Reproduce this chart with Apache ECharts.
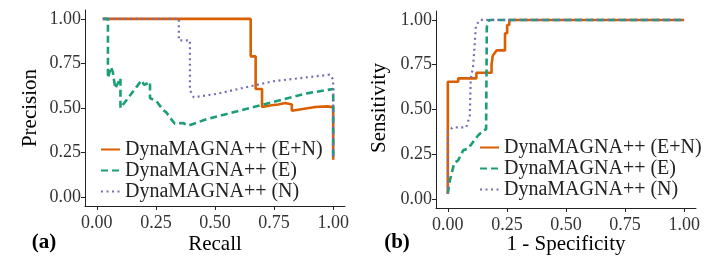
<!DOCTYPE html>
<html>
<head>
<meta charset="utf-8">
<script src="https://cdn.jsdelivr.net/npm/echarts@6/dist/echarts.min.js"></script>
<style>html,body{margin:0;padding:0;background:#fff}#c{width:706px;height:272px}</style>
</head>
<body>
<div id="c"></div>
<script>
const seriesNames = ['DynaMAGNA++ (E+N)', 'DynaMAGNA++ (E)', 'DynaMAGNA++ (N)'];
const tickValues = [0, 0.25, 0.5, 0.75, 1];

// (a) Precision-Recall: [recall, precision]
const prEN = [[0.025,1],[0.651,1],[0.651,0.79],[0.672,0.79],[0.672,0.607],[0.699,0.607],[0.699,0.506],[0.74,0.515],[0.767,0.52],[0.797,0.528],[0.825,0.52],[0.825,0.485],[0.924,0.506],[0.924,0.496],[0.973,0.509],[0.973,0.50],[1.0,0.505],[1.0,0.21]];
const prE = [[0.025,1],[0.047,1],[0.047,0.668],[0.06,0.73],[0.068,0.70],[0.078,0.61],[0.10,0.668],[0.10,0.50],[0.189,0.655],[0.20,0.63],[0.225,0.645],[0.225,0.556],[0.253,0.537],[0.28,0.49],[0.295,0.474],[0.316,0.435],[0.33,0.412],[0.364,0.416],[0.387,0.401],[0.46,0.435],[0.676,0.51],[0.888,0.582],[1.0,0.607],[1.0,0.21]];
const prN = [[0.025,1],[0.347,1],[0.347,0.88],[0.394,0.88],[0.394,0.60],[0.41,0.56],[0.51,0.58],[0.66,0.625],[0.746,0.65],[0.985,0.687],[1.0,0.66],[1.0,0.21]];

// (b) ROC: [1 - specificity, sensitivity]
const rocEN = [[0,0.03],[0,0.655],[0.044,0.655],[0.044,0.674],[0.121,0.674],[0.121,0.705],[0.185,0.705],[0.185,0.75],[0.19,0.80],[0.206,0.83],[0.242,0.83],[0.242,0.926],[0.251,0.926],[0.251,0.972],[0.26,0.972],[0.26,1.0],[1,1]];
const rocE = [[0,0.03],[0.008,0.10],[0.027,0.20],[0.044,0.217],[0.065,0.272],[0.086,0.282],[0.107,0.319],[0.128,0.355],[0.15,0.383],[0.162,0.39],[0.165,0.96],[0.175,1.0],[1,1]];
const rocN = [[0,0.03],[0,0.375],[0.02,0.40],[0.078,0.40],[0.093,0.466],[0.097,0.67],[0.107,0.74],[0.114,0.87],[0.119,0.97],[0.136,1.0],[1,1]];

const colors = ['#D95F02', '#1B9E77', '#7570B3'];
const FONT = '"Liberation Serif", "Times New Roman", serif';
const axisCol = '#222';

function xAx(gi) {
  return {
    type: 'value', gridIndex: gi, min: -0.05, max: 1.05,
    axisLine: { onZero: false, lineStyle: { color: axisCol, width: 1 } },
    axisTick: { customValues: tickValues, length: 4, lineStyle: { color: axisCol } },
    axisLabel: { customValues: tickValues, formatter: v => v.toFixed(2), fontFamily: FONT, fontSize: 18, color: '#333', margin: 8 },
    splitLine: { show: false }
  };
}
function yAx(gi) {
  return {
    type: 'value', gridIndex: gi, min: -0.05, max: 1.05,
    axisLine: { show: true, onZero: false, lineStyle: { color: axisCol, width: 1 } },
    axisTick: { show: true, customValues: tickValues, length: 4, lineStyle: { color: axisCol } },
    axisLabel: { customValues: tickValues, formatter: v => v.toFixed(2), fontFamily: FONT, fontSize: 18, color: '#333', margin: 4 },
    splitLine: { show: false }
  };
}
const styles = [
  { width: 2.6, type: 'solid' },
  { width: 2.6, type: [7, 4] },
  { width: 2.2, type: [2, 3.5] }
];
function mk(name, data, gi, k) {
  return {
    name, type: 'line', data, xAxisIndex: gi, yAxisIndex: gi, symbol: 'none',
    color: colors[k], lineStyle: Object.assign({ color: colors[k], cap: 'butt' }, styles[k]),
    animation: false, z: 2 + k
  };
}
const legendText = { fontFamily: FONT, fontSize: 20, color: '#222', lineHeight: 21 };
function legendAt(left, top) {
  return { data: seriesNames, left, top, padding: 0, orient: 'vertical', itemWidth: 19, itemHeight: 14, itemGap: 0,
    textStyle: legendText, selectedMode: false,
    itemStyle: { color: 'rgba(0,0,0,0)', borderWidth: 0, opacity: 0 } };
}
function txt(x, y, text, size, bold, rot) {
  return { type: 'text', x, y, rotation: rot || 0,
    style: { text, font: (bold ? 'bold ' : '') + size + 'px ' + FONT, fill: '#000', align: 'center', verticalAlign: 'middle' } };
}
const chart = echarts.init(document.getElementById('c'), null, { renderer: 'canvas' });
chart.setOption({
  animation: false,
  grid: [
    { left: 85, top: 10, width: 260, height: 196 },
    { left: 436, top: 11, width: 260, height: 197 }
  ],
  xAxis: [xAx(0), xAx(1)],
  yAxis: [yAx(0), yAx(1)],
  legend: [legendAt(100, 139), legendAt(479, 137)],
  series: [
    mk(seriesNames[0], prEN, 0, 0), mk(seriesNames[1], prE, 0, 1), mk(seriesNames[2], prN, 0, 2),
    mk(seriesNames[0], rocEN, 1, 0), mk(seriesNames[1], rocE, 1, 1), mk(seriesNames[2], rocN, 1, 2)
  ],
  graphic: [
    txt(215, 244, 'Recall', 21),
    txt(566, 244, '1 - Specificity', 21),
    txt(44, 243, '(a)', 21, true),
    txt(397, 243, '(b)', 21, true),
    txt(30, 108, 'Precision', 21, false, Math.PI / 2),
    txt(379, 108, 'Sensitivity', 21, false, Math.PI / 2)
  ]
});
</script>
</body>
</html>
